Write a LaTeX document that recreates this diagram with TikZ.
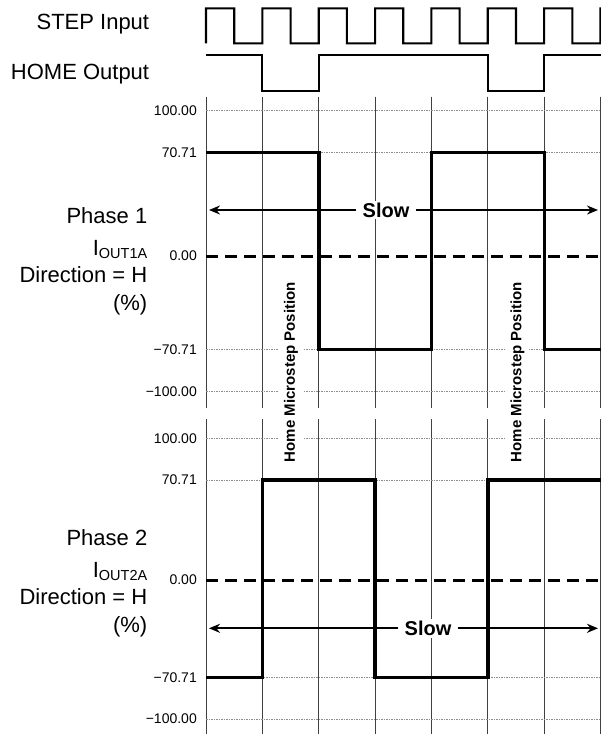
\documentclass[tikz,border=0pt]{standalone}
\usepackage{fontspec}
\setmainfont{Liberation Sans}
\usetikzlibrary{arrows.meta}
\begin{document}
\begin{tikzpicture}[x=1pt,y=-1pt,
  lbl/.style={font=\fontsize{22}{24}\selectfont, anchor=base east, inner sep=0},
  ax/.style={font=\fontsize{14}{16}\selectfont, anchor=east, inner sep=0},
  vgrid/.style={black!75, line width=0.8pt},
  hgrid/.style={black!45, line width=0.7pt, dash pattern=on 1.5pt off 1pt},
  zero/.style={line width=3pt, dash pattern=on 12pt off 7pt},
  wave/.style={line width=3.6pt},
  logic/.style={line width=2.1pt},
  slowlbl/.style={font=\bfseries\fontsize{20}{22}\selectfont, fill=white, inner xsep=6pt, inner ysep=2pt},
  homelbl/.style={font=\bfseries\fontsize{15}{17}\selectfont, fill=white, rotate=90, inner xsep=2pt, inner ysep=5pt},
  arr/.style={line width=2pt, -{Stealth[length=11pt,width=9pt]}}
]
\useasboundingbox (0,0) rectangle (601,734);

% left labels
\node[lbl] (step) at (149.3,29.6) {STEP Input};
\node[lbl] (home) at (149.3,79.6) {HOME Output};
\node[lbl] (p1a) at (147.5,223) {Phase 1};
\node[lbl] (p1b) at (147.5,255) {I\raisebox{-3pt}{\fontsize{14.5}{15}\selectfont OUT1A}};
\node[lbl] (p1c) at (147.5,282) {Direction = H};
\node[lbl] (p1d) at (147.5,310) {(\%)};
\node[lbl] (p2a) at (147.5,545) {Phase 2};
\node[lbl] (p2b) at (147.5,577) {I\raisebox{-3pt}{\fontsize{14.5}{15}\selectfont OUT2A}};
\node[lbl] (p2c) at (147.5,604) {Direction = H};
\node[lbl] (p2d) at (147.5,632) {(\%)};

% axis labels
\foreach \y/\t [count=\i] in {110.7/100.00, 152.3/70.71, 256/0.00, 349.3/−70.71, 391.7/−100.00}
  \node[ax] (a1\i) at (197,\y) {\t};
\foreach \y/\t [count=\i] in {438.3/100.00, 480/70.71, 580/0.00, 677.3/−70.71, 719/−100.00}
  \node[ax] (a2\i) at (197,\y) {\t};

% grids
\foreach \k in {0,...,7} {
  \draw[vgrid] (206+56.35*\k,96.7) -- (206+56.35*\k,408);
  \draw[vgrid] (206+56.35*\k,419) -- (206+56.35*\k,734);
}
\foreach \y in {110.7,152.3,349.3,391.7,438.3,480,677.3,719}
  \draw[hgrid] (206,\y) -- (601,\y);

% labels with white background
\node[slowlbl] (slow1) at (386,210) {Slow};
\node[slowlbl] (slow2) at (428,628.3) {Slow};
\node[homelbl] (hm1) at (291,372) {Home Microstep Position};
\node[homelbl] (hm2) at (517.5,372) {Home Microstep Position};

% zero lines
\draw[zero] (206,256) -- (601,256);
\draw[zero] (206,580) -- (601,580);

% STEP input
\draw[logic] (206,43.3)
  \foreach \k in {0,...,6} { -- (206+56.35*\k,8.3) -- (234.2+56.35*\k,8.3) -- (234.2+56.35*\k,43.3) -- (262.35+56.35*\k,43.3) }
  -- (600.45,8.3) -- (601,8.3);
% HOME output
\draw[logic] (206,55) -- (262.35,55) -- (262.35,90.7) -- (318.7,90.7) -- (318.7,55)
  -- (488.1,55) -- (488.1,90.7) -- (544.4,90.7) -- (544.4,55) -- (601,55);

% phase 1 waveform
\draw[wave] (206,152.3) -- (318.7,152.3) -- (318.7,349.3) -- (431.4,349.3) -- (431.4,152.3)
  -- (544.4,152.3) -- (544.4,349.3) -- (601,349.3);
% phase 2 waveform
\draw[wave] (206,677.3) -- (262.35,677.3) -- (262.35,480) -- (375.05,480) -- (375.05,677.3)
  -- (488.1,677.3) -- (488.1,480) -- (601,480);

% slow arrows
\coordinate (s1l) at (209,210);
\coordinate (s1r) at (598,210);
\coordinate (s2l) at (209,628.3);
\coordinate (s2r) at (598,628.3);
\draw[arr] (slow1.west) -- (s1l);
\draw[arr] (slow1.east) -- (s1r);
\draw[arr] (slow2.west) -- (s2l);
\draw[arr] (slow2.east) -- (s2r);
\end{tikzpicture}
\end{document}
